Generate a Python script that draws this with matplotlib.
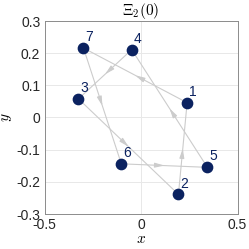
import matplotlib
matplotlib.use("Agg")
from matplotlib import pyplot as plt
import numpy as np

labels = ["1", "2", "3", "4", "5", "6", "7"]
xs = [0.239, 0.194, -0.324, -0.048, 0.344, -0.102, -0.298]
ys = [0.046, -0.239, 0.058, 0.211, -0.155, -0.144, 0.216]
order = [1, 7, 6, 5, 4, 3, 2, 1]

plt.rcParams["font.family"] = ["Liberation Sans", "DejaVu Sans"]
plt.rcParams["mathtext.fontset"] = "cm"

navy = "#0b2260"
grey = "#cccccc"

fig = plt.figure(figsize=(2.49, 2.49), dpi=100)
ax = fig.add_axes([44.5 / 249, 35 / 249, 193 / 249, 193 / 249])

for a, b in zip(order[:-1], order[1:]):
    x0, y0 = xs[a - 1], ys[a - 1]
    x1, y1 = xs[b - 1], ys[b - 1]
    ax.plot([x0, x1], [y0, y1], color=grey, lw=0.8, zorder=2)
    mx, my = (x0 + x1) / 2, (y0 + y1) / 2
    ax.annotate("", xy=(mx, my), xytext=(x0 + 0.45 * (x1 - x0), y0 + 0.45 * (y1 - y0)),
                arrowprops=dict(arrowstyle="-|>,head_length=0.55,head_width=0.14",
                                color=grey, lw=0.8, shrinkA=0, shrinkB=0),
                zorder=2)

ax.scatter(xs, ys, s=55, color=navy, zorder=3)
for lab, x, y in zip(labels, xs, ys):
    ax.text(x + 0.01, y + 0.012, lab, color=navy, fontsize=10, ha="left", va="bottom")

ax.set_xlim(-0.5, 0.5)
ax.set_ylim(-0.3, 0.3)
ax.set_xticks([-0.5, 0, 0.5])
ax.set_yticks(np.arange(-0.3, 0.31, 0.1))
ax.set_xticklabels(["-0.5", "0", "0.5"])
ax.set_yticklabels(["-0.3", "-0.2", "-0.1", "0", "0.1", "0.2", "0.3"])
ax.grid(True, color="#e8e8e8", lw=0.7)
ax.set_axisbelow(True)
ax.tick_params(labelsize=10, length=0, pad=3, colors="#262626")
for s in ax.spines.values():
    s.set_color("#8c8c8c")
    s.set_linewidth(0.7)

ax.set_title(r"$\Xi_2(0)$", fontsize=11, pad=3)
ax.set_xlabel(r"$x$", fontsize=11, labelpad=0)
ax.set_ylabel(r"$y$", fontsize=11, labelpad=2)

plt.savefig("out.png", dpi=100)
